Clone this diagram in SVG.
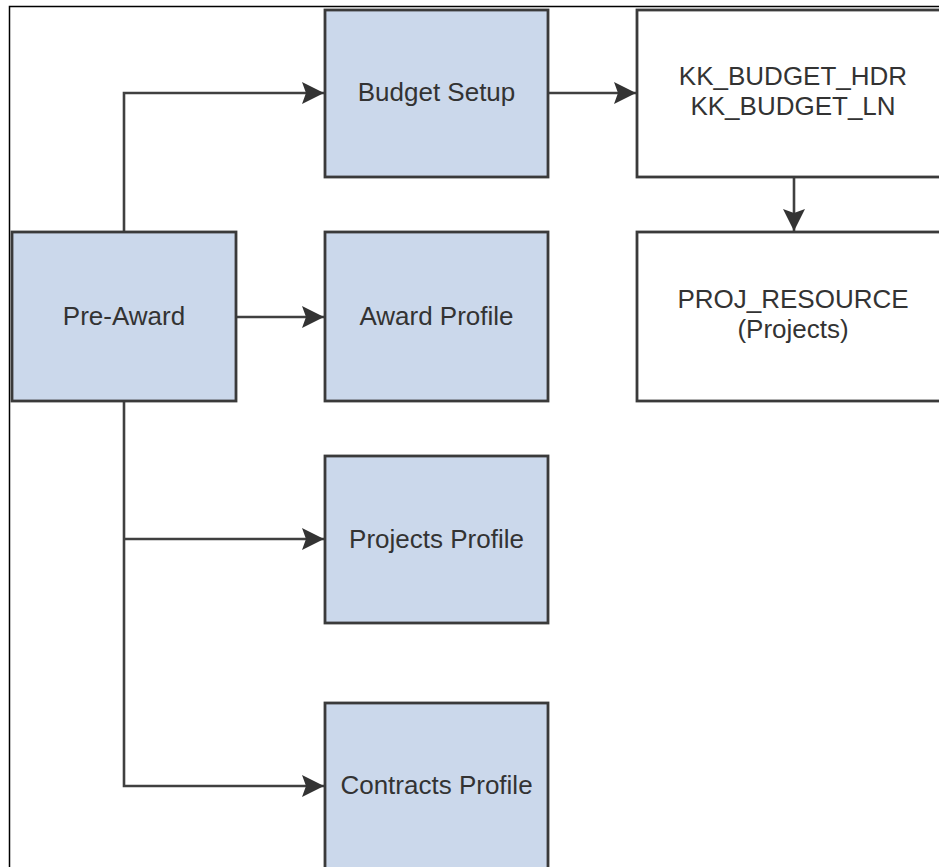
<svg xmlns="http://www.w3.org/2000/svg" width="939" height="867" viewBox="0 0 939 867">
<defs>
<style>
.blue{fill:#cbd8eb;stroke:#3a3a3a;stroke-width:2.8}
.white{fill:#ffffff;stroke:#3a3a3a;stroke-width:2.8}
.lbl{font-family:"Liberation Sans",Arial,sans-serif;font-size:26px;fill:#333333;text-anchor:middle}
.conn{fill:none;stroke:#404040;stroke-width:2.6}
</style>
<marker id="arr" viewBox="0 0 22 22" refX="22" refY="11" markerWidth="22" markerHeight="22" markerUnits="userSpaceOnUse" orient="auto">
<path d="M0,0 L22,11 L0,22 L4,11 Z" fill="#333333"/>
</marker>
</defs>
<rect x="0" y="0" width="939" height="867" fill="#ffffff"/>
<path d="M9.5,867 V6.5 H939" fill="none" stroke="#000000" stroke-width="1.5"/>
<g id="connectors">
<path class="conn" d="M124,232 V93 H324" marker-end="url(#arr)"/>
<path class="conn" d="M548,93 H636" marker-end="url(#arr)"/>
<path class="conn" d="M794,177 V231" marker-end="url(#arr)"/>
<path class="conn" d="M236,317 H324" marker-end="url(#arr)"/>
<path class="conn" d="M124,401 V786 H324" marker-end="url(#arr)"/>
<path class="conn" d="M124,539 H324" marker-end="url(#arr)"/>
</g>
<g id="pre-award">
<rect class="blue" x="12" y="232" width="224" height="169"/>
<text class="lbl" x="124" y="325">Pre-Award</text>
</g>
<g id="budget-setup">
<rect class="blue" x="325" y="10" width="223" height="167"/>
<text class="lbl" x="436.5" y="101">Budget Setup</text>
</g>
<g id="kk-budget">
<rect class="white" x="637" y="10" width="314" height="167"/>
<text class="lbl" x="793" y="85">KK_BUDGET_HDR</text>
<text class="lbl" x="793" y="115">KK_BUDGET_LN</text>
</g>
<g id="proj-resource">
<rect class="white" x="637" y="232" width="314" height="169"/>
<text class="lbl" x="793" y="308">PROJ_RESOURCE</text>
<text class="lbl" x="793" y="338">(Projects)</text>
</g>
<g id="award-profile">
<rect class="blue" x="325" y="232" width="223" height="169"/>
<text class="lbl" x="436.5" y="325">Award Profile</text>
</g>
<g id="projects-profile">
<rect class="blue" x="325" y="456" width="223" height="167"/>
<text class="lbl" x="436.5" y="548">Projects Profile</text>
</g>
<g id="contracts-profile">
<rect class="blue" x="325" y="703" width="223" height="180"/>
<text class="lbl" x="436.5" y="794">Contracts Profile</text>
</g>
</svg>
